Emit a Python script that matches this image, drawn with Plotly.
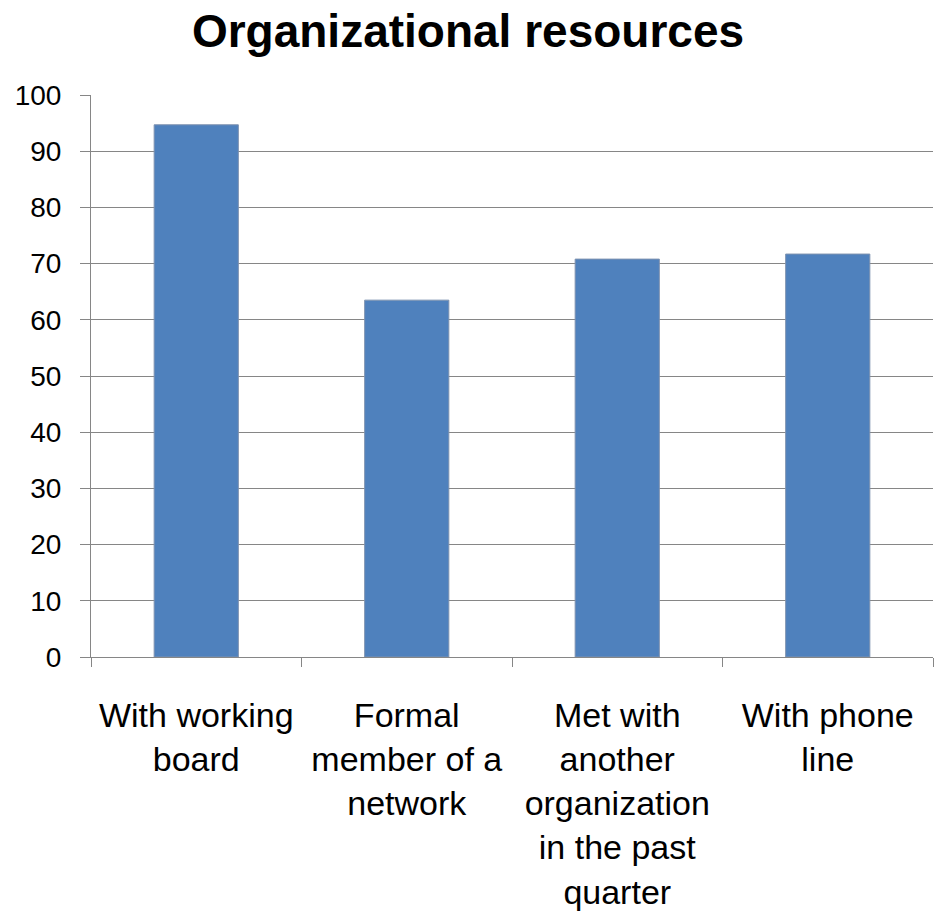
import plotly.graph_objects as go

categories = [
    "With working<br>board",
    "Formal<br>member of a<br>network",
    "Met with<br>another<br>organization<br>in the past<br>quarter",
    "With phone<br>line",
]
values = [94.7, 63.5, 70.8, 71.7]
y_ticks = list(range(0, 101, 10))

fig = go.Figure(
    go.Bar(
        x=categories,
        y=values,
        marker=dict(color="#4F81BD", line=dict(color="#7f93b0", width=1)),
    )
)

fig.update_layout(
    width=936,
    height=915,
    paper_bgcolor="white",
    plot_bgcolor="white",
    margin=dict(l=91, r=3, t=95, b=258),
    bargap=0.6,
    showlegend=False,
    title=dict(
        text="<b>Organizational resources</b>",
        x=0.5,
        xanchor="center",
        y=0.966,
        yanchor="middle",
        font=dict(family="Liberation Sans, Arial", size=46, color="black"),
    ),
    font=dict(family="Liberation Sans, Arial", color="black"),
)

fig.update_yaxes(
    range=[0, 100],
    tickvals=y_ticks,
    showgrid=True,
    gridcolor="#868686",
    gridwidth=1,
    showline=True,
    linecolor="#868686",
    linewidth=1,
    ticks="outside",
    ticklen=10,
    tickcolor="#868686",
    tickfont=dict(size=28),
    ticklabelstandoff=13,
    zeroline=False,
)

fig.update_xaxes(
    showline=True,
    linecolor="#868686",
    linewidth=1,
    ticks="outside",
    tickson="boundaries",
    ticklen=9,
    tickcolor="#868686",
    tickfont=dict(size=34),
    tickangle=0,
    ticklabelstandoff=28,
)

fig.write_html("out.html")
